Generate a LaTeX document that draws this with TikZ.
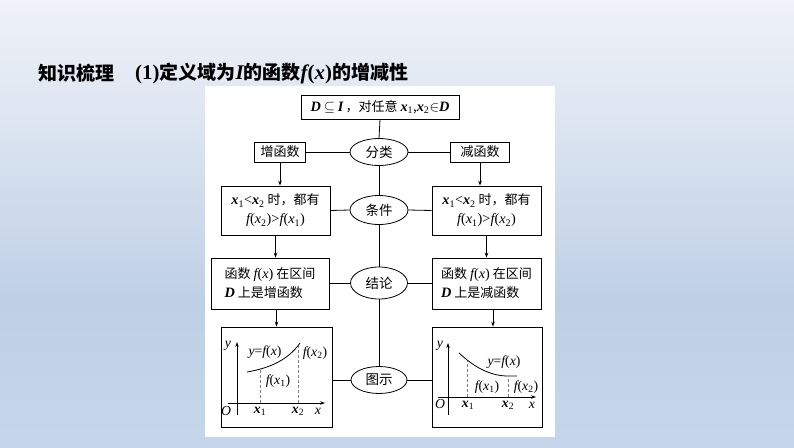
\documentclass[tikz,border=0pt]{standalone}
\usepackage{fontspec}
\setmainfont{Noto Sans CJK SC}
\newfontfamily\tms[Scale=1.1]{Liberation Serif}
\usetikzlibrary{arrows.meta,shapes.geometric}
\newcommand\myi[1]{{\tms\itshape #1}}
\newcommand\myb[1]{{\tms\bfseries\itshape #1}}
\newcommand\mysub[1]{\textsubscript{\tms\upshape\mdseries #1}}
\newcommand\myf[1]{\myi{f}{\tms(}#1{\tms)}}
\newcommand\mysym[1]{{\fontsize{15}{16}\selectfont$#1$}}
\definecolor{bgtop}{HTML}{F0F3F8}
\definecolor{bgmid}{HTML}{BFD0E6}
\definecolor{bgbot}{HTML}{C6D6EA}
\tikzset{
  box/.style={draw=black, line width=0.8pt, fill=white, inner sep=2pt,
    font=\fontsize{13}{19}\selectfont},
  oval/.style={draw=black, line width=0.8pt, fill=white, ellipse, inner sep=0pt,
    font=\fontsize{13.5}{16}\selectfont},
  link/.style={line width=0.8pt},
  arr/.style={line width=0.8pt, -{Stealth[length=5pt,width=3.6pt]}},
  axis/.style={line width=0.7pt, -{Stealth[length=5pt,width=3.4pt]}},
  guide/.style={line width=0.7pt, gray, dash pattern=on 3pt off 2pt},
  curve/.style={line width=0.8pt},
  lbl/.style={inner sep=0pt, font=\fontsize{12.5}{14}\selectfont},
  ttl/.style={inner sep=0pt, anchor=west, font=\fontsize{19}{22}\selectfont\bfseries}
}
\begin{document}
\begin{tikzpicture}[x=1pt,y=-1pt]
\useasboundingbox (0,0) rectangle (794,447);
% background
\shade[top color=bgtop, bottom color=bgmid] (0,0) rectangle (794,300);
\shade[top color=bgmid, bottom color=bgbot] (0,300) rectangle (794,447);
\fill[white] (205,86) rectangle (555,437);
% title
\node[ttl] (t1) at (38,73) {知识梳理};
\node[ttl] (t2) at (135,73) {{\tms(1)}定义域为\myb{I}的函数\myb{f}{\tms(}\myb{x}{\tms)}的增减性};
% nodes
\node[box, minimum width=158pt, minimum height=24pt] (top) at (380,107)
  {\myb{D} \mysym{\subseteq} \myb{I}\,，对任意 \myb{x}\mysub{1},\myb{x}\mysub{2}\mysym{\in}\myb{D}};
\node[oval, minimum width=58pt, minimum height=27pt] (fenlei) at (379,152) {分类};
\node[box, minimum width=51pt, minimum height=20pt] (zeng) at (280,152) {增函数};
\node[box, minimum width=59pt, minimum height=20pt] (jian) at (480,152) {减函数};
\node[oval, minimum width=58pt, minimum height=29pt] (tiaojian) at (379,210) {条件};
\node[box, minimum width=109pt, minimum height=49pt, align=center] (condL) at (275.5,210.5)
  {\myb{x}\mysub{1}{\tms<}\myb{x}\mysub{2} 时，都有\\\myf{\myi{x}\mysub{2}}{\tms>}\myf{\myi{x}\mysub{1}}};
\node[box, minimum width=109pt, minimum height=49pt, align=center] (condR) at (486.5,210.5)
  {\myb{x}\mysub{1}{\tms<}\myb{x}\mysub{2} 时，都有\\\myf{\myi{x}\mysub{1}}{\tms>}\myf{\myi{x}\mysub{2}}};
\node[oval, minimum width=57pt, minimum height=32pt] (jielun) at (379,283) {结论};
\node[box, minimum width=118pt, minimum height=51pt, align=left] (concL) at (270,283.5)
  {函数 \myf{\myi{x}} 在区间\\\myb{D} 上是增函数};
\node[box, minimum width=109pt, minimum height=51pt, align=left] (concR) at (486.5,283.5)
  {函数 \myf{\myi{x}} 在区间\\\myb{D} 上是减函数};
\node[box, minimum width=111pt, minimum height=100pt] (graphL) at (276.5,377) {};
\node[box, minimum width=110pt, minimum height=100pt] (graphR) at (487,377) {};
\node[oval, minimum width=56pt, minimum height=27pt] (tushi) at (379,380) {图示};
% central spine
\draw[link] (top.south) -- (fenlei.north);
\draw[link] (fenlei.south) -- (tiaojian.north);
\draw[link] (tiaojian.south) -- (jielun.north);
\draw[link] (jielun.south) -- (tushi.north);
% horizontal links
\draw[link] (zeng.east) -- (fenlei.west);
\draw[link] (fenlei.east) -- (jian.west);
\draw[link] (condL.east) -- (tiaojian.west);
\draw[link] (tiaojian.east) -- (condR.west);
\draw[link] (concL.east |- jielun.west) -- (jielun.west);
\draw[link] (jielun.east) -- (jielun.east -| concR.west);
\draw[link] (graphL.east |- tushi.west) -- (tushi.west);
\draw[link] (tushi.east) -- (tushi.east -| graphR.west);
% arrows
\draw[arr] (zeng.south) -- (zeng.south |- condL.north);
\draw[arr] (jian.south) -- (jian.south |- condR.north);
\draw[arr] (condL.south) -- (condL.south |- concL.north);
\draw[arr] (condR.south) -- (condR.south |- concR.north);
\draw[arr] (graphL.north |- concL.south) -- (graphL.north);
\coordinate (aR) at (493,308.5);
\draw[arr] (aR) -- (aR |- graphR.north);
% left graph
\draw[axis] (237,415) -- (237,342);
\draw[axis] (228,403) -- (325,403);
\draw[guide] (260,403) -- (260,369);
\draw[guide] (298,403) -- (298,346);
\draw[curve] (247,372) .. controls (270,368) and (288,360) .. (300,343);
\node[lbl] (oL) at (226,411) {\myi{O}};
\node[lbl] (yL) at (228,346) {\myi{y}};
\node[lbl] (xL) at (318,411) {\myi{x}};
\node[lbl] (x1L) at (260,411) {\myb{x}\mysub{1}};
\node[lbl] (x2L) at (298,411) {\myb{x}\mysub{2}};
\node[lbl] (eqL) at (265,352) {\myi{y}{\tms=}\myf{\myi{x}}};
\node[lbl] (f2L) at (315,353) {\myf{\myi{x}\mysub{2}}};
\node[lbl] (f1L) at (278,381) {\myf{\myi{x}\mysub{1}}};
% right graph
\draw[axis] (448,415) -- (448,343);
\draw[axis] (438,397) -- (536,397);
\draw[guide] (467,397) -- (467,361);
\draw[guide] (508,397) -- (508,377);
\draw[curve] (459,353) .. controls (474,367) and (490,376) .. (508,376) -- (517,376);
\node[lbl] (oR) at (440,404) {\myi{O}};
\node[lbl] (yR) at (440,346) {\myi{y}};
\node[lbl] (xR) at (532,405) {\myi{x}};
\node[lbl] (x1R) at (468,405) {\myb{x}\mysub{1}};
\node[lbl] (x2R) at (508,405) {\myb{x}\mysub{2}};
\node[lbl] (eqR) at (504,362) {\myi{y}{\tms=}\myf{\myi{x}}};
\node[lbl] (f1R) at (487,387) {\myf{\myi{x}\mysub{1}}};
\node[lbl] (f2R) at (526,387) {\myf{\myi{x}\mysub{2}}};
\end{tikzpicture}
\end{document}
